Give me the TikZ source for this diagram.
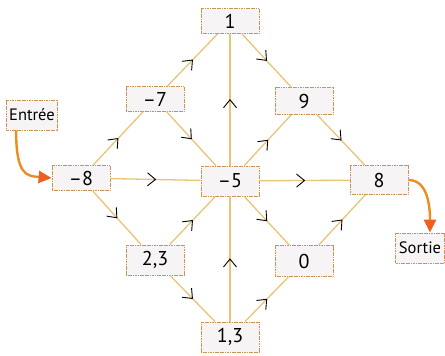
\documentclass[tikz,border=0pt]{standalone}
\usepackage{fontspec}
\setmainfont{PT Sans}
\usetikzlibrary{arrows.meta,decorations.markings}
\definecolor{linkc}{RGB}{232,196,120}
\definecolor{boxline}{RGB}{205,145,80}
\definecolor{boxfill}{RGB}{246,244,244}
\definecolor{orangec}{RGB}{238,140,35}
\definecolor{tipc}{RGB}{240,95,30}
\tikzset{
  numbox/.style={draw=boxline, fill=boxfill, line width=0.8pt,
    dash pattern=on 1.2pt off 0.5pt, minimum width=58pt, minimum height=27pt,
    inner sep=0pt, font=\fontsize{20}{21}\selectfont},
  labbox/.style={numbox, minimum width=51pt, minimum height=30pt, font=\fontsize{16.5}{17}\selectfont},
  link/.style={draw=linkc, line width=1.3pt,
    postaction={decorate, decoration={markings, mark=at position 0.5 with
      {\draw[black, line width=0.9pt, solid] (-8pt,-6.5pt) -- (0pt,0pt) -- (-8pt,6.5pt);}}}},
  flow/.style={draw=orangec, line width=2.4pt,
    -{Triangle[length=13pt,width=12pt,fill=tipc,color=tipc]}}
}
\begin{document}
\begin{tikzpicture}[x=1pt,y=-1pt]
\useasboundingbox (0,0) rectangle (445,356);
\node[numbox, minimum height=25pt] (n1) at (230,21) {1};
\node[numbox, minimum height=25pt] (nm7) at (155,99) {–7};
\node[numbox] (n9) at (304,101) {9};
\node[numbox, minimum height=25pt] (nm8) at (81,178) {–8};
\node[numbox, minimum height=30pt] (nm5) at (230,181) {–5};
\node[numbox, minimum height=29pt] (n8) at (379,180) {8};
\node[numbox, minimum height=30pt] (n23) at (155,260) {2,3};
\node[numbox, minimum height=31pt] (n0) at (304,261) {0};
\node[numbox, minimum height=30pt] (n13) at (230,337) {1,3};
\node[labbox] (entree) at (32,115) {Entrée};
\node[labbox, minimum width=49pt] (sortie) at (420,248) {Sortie};
\draw[link] (nm7) -- (n1);
\draw[link] (n1) -- (n9);
\draw[link] (nm5) -- (n1);
\draw[link] (nm8) -- (nm7);
\draw[link] (nm7) -- (nm5);
\draw[link] (nm5) -- (n9);
\draw[link] (n9) -- (n8);
\draw[link] (nm8) -- (nm5);
\draw[link] (nm5) -- (n8);
\draw[link] (nm8) -- (n23);
\draw[link] (n23) -- (nm5);
\draw[link] (nm5) -- (n0);
\draw[link] (n0) -- (n8);
\draw[link] (n23) -- (n13);
\draw[link] (n13) -- (nm5);
\draw[link] (n13) -- (n0);
\draw[flow] ([xshift=10pt]entree.south west) .. controls +(0,45) and +(-25,-2) .. (nm8.west);
\draw[flow] (n8.east) .. controls +(18,0) and +(0,-30) .. ([xshift=10pt]sortie.north);
\end{tikzpicture}
\end{document}
